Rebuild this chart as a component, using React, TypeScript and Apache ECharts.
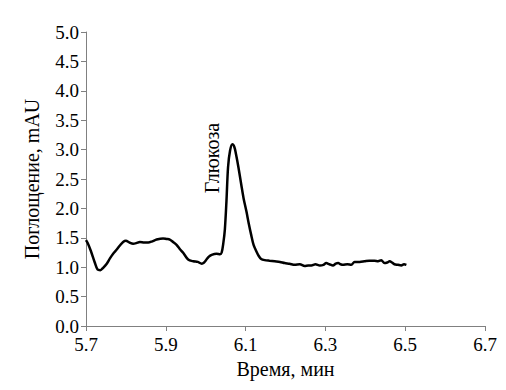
import React, { useEffect, useRef } from "react";
import * as echarts from "echarts";

const timeMin = [
  5.700, 5.705, 5.712, 5.722, 5.729, 5.736, 5.743, 5.752, 5.760, 5.768, 5.777, 5.785, 5.793, 5.800,
  5.809, 5.818, 5.826, 5.835, 5.846, 5.856, 5.866, 5.877, 5.893, 5.902, 5.910, 5.918, 5.927, 5.935,
  5.944, 5.956, 5.969, 5.980, 5.990, 5.996, 6.002, 6.008, 6.015, 6.027, 6.036, 6.040, 6.044, 6.048,
  6.052, 6.056, 6.061, 6.067, 6.072, 6.076, 6.082, 6.089, 6.095, 6.102, 6.108, 6.114, 6.120, 6.127,
  6.133, 6.139, 6.148, 6.160, 6.173, 6.186, 6.198, 6.210, 6.223, 6.236, 6.248, 6.257, 6.265, 6.275,
  6.286, 6.295, 6.302, 6.310, 6.319, 6.326, 6.332, 6.338, 6.344, 6.355, 6.365, 6.373, 6.386, 6.398,
  6.410, 6.423, 6.432, 6.440, 6.448, 6.455, 6.461, 6.467, 6.473, 6.482, 6.490, 6.497, 6.503
];

const absorbance = [
  1.46, 1.40, 1.28, 1.08, 0.96, 0.95, 0.99, 1.06, 1.15, 1.23, 1.30, 1.37, 1.43, 1.45,
  1.42, 1.40, 1.41, 1.43, 1.42, 1.42, 1.44, 1.47, 1.49, 1.48, 1.47, 1.43, 1.38, 1.31,
  1.24, 1.13, 1.10, 1.09, 1.06, 1.08, 1.13, 1.18, 1.21, 1.23, 1.22, 1.25, 1.40, 1.64,
  2.12, 2.70, 2.98, 3.09, 3.04, 2.92, 2.70, 2.41, 2.17, 1.95, 1.74, 1.55, 1.38, 1.27,
  1.19, 1.14, 1.12, 1.11, 1.10, 1.09, 1.07, 1.06, 1.04, 1.05, 1.02, 1.03, 1.03, 1.05,
  1.03, 1.04, 1.07, 1.05, 1.03, 1.06, 1.07, 1.05, 1.04, 1.05, 1.04, 1.09, 1.09, 1.10,
  1.11, 1.11, 1.10, 1.12, 1.07, 1.08, 1.10, 1.08, 1.05, 1.04, 1.03, 1.05, 1.04
];

const xStart = 5.7;
const xEnd = 6.7;
const xStep = 0.2;
const yMax = 5.0;
const yStep = 0.5;

const peakLabel = "Глюкоза";
const xTitle = "Время, мин";
const yTitle = "Поглощение, mAU";

export default function App() {
  const ref = useRef<HTMLDivElement>(null);
  useEffect(() => {
    if (!ref.current) return;
    const chart = echarts.init(ref.current, undefined, { renderer: "svg" });
    const font = "Liberation Serif";
    const axisGray = "#808080";
    chart.setOption({
      animation: false,
      backgroundColor: "#ffffff",
      textStyle: { fontFamily: font },
      grid: { left: 86, right: 21, top: 32, bottom: 64, containLabel: false },
      xAxis: {
        type: "value",
        min: 0,
        max: xEnd - xStart,
        interval: xStep,
        name: xTitle,
        nameLocation: "middle",
        nameGap: 32,
        nameTextStyle: { fontFamily: font, fontSize: 20, color: "#000" },
        axisLine: { show: true, lineStyle: { color: axisGray, width: 1 } },
        axisTick: { show: true, length: 5, lineStyle: { color: axisGray } },
        axisLabel: {
          fontFamily: font,
          fontSize: 19,
          color: "#000",
          margin: 9,
          formatter: (v: number) => (v + xStart).toFixed(1),
        },
        splitLine: { show: false },
      },
      yAxis: {
        type: "value",
        min: 0,
        max: yMax,
        interval: yStep,
        name: yTitle,
        nameLocation: "middle",
        nameGap: 44,
        nameRotate: 90,
        nameTextStyle: { fontFamily: font, fontSize: 20, color: "#000" },
        axisLine: { show: true, lineStyle: { color: axisGray, width: 1 } },
        axisTick: { show: true, length: 5, lineStyle: { color: axisGray } },
        axisLabel: {
          fontFamily: font,
          fontSize: 19,
          color: "#000",
          margin: 7,
          formatter: (v: number) => v.toFixed(1),
        },
        splitLine: { show: false },
      },
      series: [
        {
          type: "line",
          data: timeMin.map((t, i) => [t - xStart, absorbance[i]]),
          showSymbol: false,
          smooth: 0.3,
          lineStyle: { color: "#000", width: 2.5 },
        },
      ],
      graphic: [
        {
          type: "text",
          x: 212,
          y: 158,
          rotation: Math.PI / 2,
          style: {
            text: peakLabel,
            fontFamily: font,
            fontSize: 20,
            fill: "#000",
            align: "center",
            verticalAlign: "middle",
          },
        },
      ],
    });
    return () => chart.dispose();
  }, []);
  return (
    <div
      ref={ref}
      style={{ position: "fixed", left: 0, top: 0, width: 506, height: 390 }}
    />
  );
}
